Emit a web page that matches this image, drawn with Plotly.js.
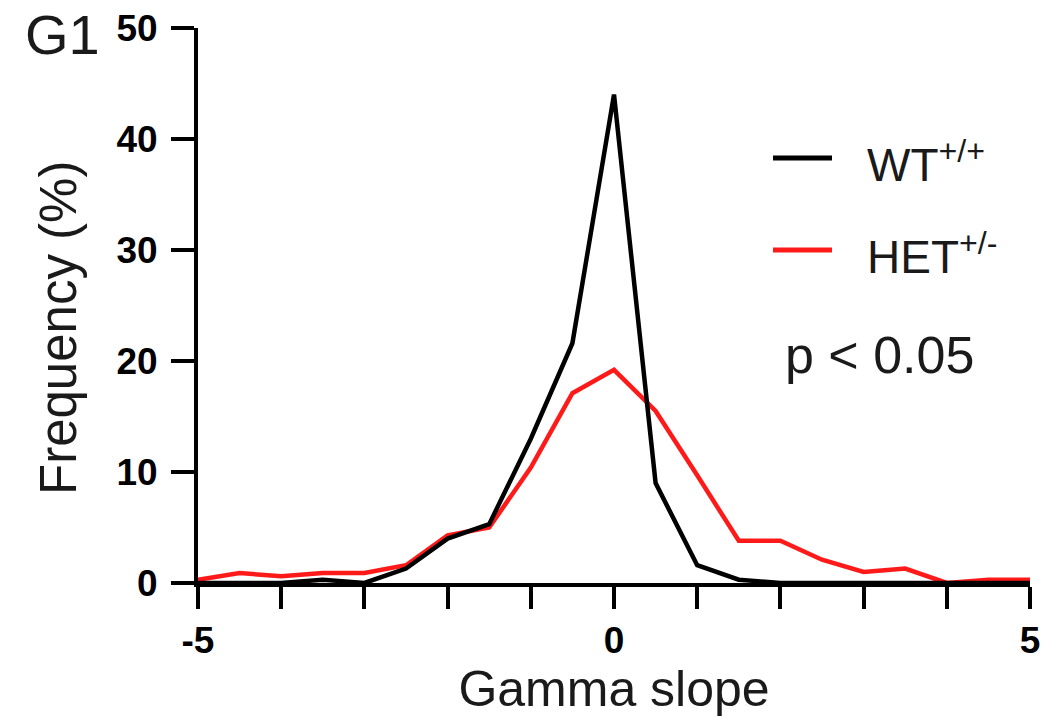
<!DOCTYPE html>
<html>
<head>
<meta charset="utf-8">
<script src="https://cdn.plot.ly/plotly-3.0.1.min.js"></script>
<style>html,body{margin:0;padding:0;background:#fff;}</style>
</head>
<body>
<div id="chart" style="width:1043px;height:720px;"></div>
<script>
// Gamma slope bins
var gammaSlope = [-5, -4.5, -4, -3.5, -3, -2.5, -2, -1.5, -1, -0.5, 0, 0.5, 1, 1.5, 2, 2.5, 3, 3.5, 4, 4.5, 5];
// Frequency (%) per genotype
var wtFreq  = [0, 0, 0, 0.3, 0, 1.3, 4.0, 5.3, 13.0, 21.6, 44.0, 9.0, 1.6, 0.3, 0, 0, 0, 0, 0, 0, 0];
var hetFreq = [0.3, 0.9, 0.6, 0.9, 0.9, 1.6, 4.3, 5.0, 10.4, 17.1, 19.2, 15.5, 9.7, 3.8, 3.8, 2.1, 1.0, 1.3, 0, 0.3, 0.3];
var seriesNames = ['WT<sup>+/+</sup>', 'HET<sup>+/-</sup>'];
var seriesColors = ['#000000', '#ff1a1a'];
var xTickVals = [-5, 0, 5];
var xTickText = ['-5', '0', '5'];
var xMinorTickVals = [-4, -3, -2, -1, 1, 2, 3, 4];
var yTickVals = [0, 10, 20, 30, 40, 50];

var FONT = 'Liberation Sans, Arial, Helvetica, sans-serif';

// pixel helpers for layout-only placement (plot area: x 198..1030, y 28..583)
function px(x) { return (x - 198) / 832; }
function py(y) { return (583 - y) / 555; }

var traces = [
  {
    x: gammaSlope, y: hetFreq, type: 'scatter', mode: 'lines',
    name: seriesNames[1], showlegend: false,
    line: {color: seriesColors[1], width: 4.5}
  },
  {
    x: gammaSlope, y: wtFreq, type: 'scatter', mode: 'lines',
    name: seriesNames[0], showlegend: false,
    line: {color: seriesColors[0], width: 4.5}
  }
];

var legendY = [158, 250];
var shapes = [];
var annotations = [];
for (var i = 0; i < seriesNames.length; i++) {
  shapes.push({
    type: 'line', xref: 'paper', yref: 'paper',
    x0: px(773), x1: px(832), y0: py(legendY[i]), y1: py(legendY[i]),
    line: {color: seriesColors[i], width: 5}
  });
  annotations.push({
    text: seriesNames[i], xref: 'paper', yref: 'paper',
    x: px(865), xanchor: 'left', y: py(legendY[i] + 4), yanchor: 'middle',
    showarrow: false, font: {family: FONT, size: 46, color: '#1a1a1a'}
  });
}
annotations.push({
  text: 'p < 0.05', xref: 'paper', yref: 'paper',
  x: px(783), xanchor: 'left', y: py(355), yanchor: 'middle',
  showarrow: false, font: {family: FONT, size: 52, color: '#1a1a1a'}
});
annotations.push({
  text: 'Frequency (%)', xref: 'paper', yref: 'paper', textangle: -90,
  x: px(58), xanchor: 'center', y: py(328), yanchor: 'middle',
  showarrow: false, font: {family: FONT, size: 51, color: '#1a1a1a'}
});

var layout = {
  width: 1043, height: 720, autosize: false,
  paper_bgcolor: '#fff', plot_bgcolor: '#fff',
  margin: {l: 198, r: 13, t: 28, b: 137},
  font: {family: FONT, color: '#000'},
  showlegend: false,
  title: {
    text: 'G1', x: 25/1043, xref: 'container', xanchor: 'left',
    y: 1 - 34/720, yref: 'container', yanchor: 'middle',
    font: {family: FONT, size: 56, color: '#1a1a1a'}
  },
  xaxis: {
    range: [-5, 5], showgrid: false, zeroline: false,
    showline: true, linecolor: '#000', linewidth: 4,
    ticks: 'outside', ticklen: 22, tickwidth: 4, tickcolor: '#000',
    tickmode: 'array', tickvals: xTickVals, ticktext: xTickText,
    minor: {tickmode: 'array', tickvals: xMinorTickVals, ticks: 'outside', ticklen: 22, tickwidth: 4, tickcolor: '#000', showgrid: false},
    tickfont: {family: FONT, size: 37, color: '#000', weight: 'bold'},
    title: {text: 'Gamma slope', standoff: 12, font: {family: FONT, size: 50, color: '#1a1a1a'}}
  },
  yaxis: {
    range: [0, 50], showgrid: false, zeroline: false,
    showline: true, linecolor: '#000', linewidth: 4,
    ticks: 'outside', ticklen: 23, tickwidth: 4, tickcolor: '#000',
    tickmode: 'array', tickvals: yTickVals, ticklabelstandoff: 6,
    tickfont: {family: FONT, size: 37, color: '#000', weight: 'bold'}
  },
  shapes: shapes,
  annotations: annotations
};

Plotly.newPlot('chart', traces, layout, {displayModeBar: false, staticPlot: true});
</script>
</body>
</html>
